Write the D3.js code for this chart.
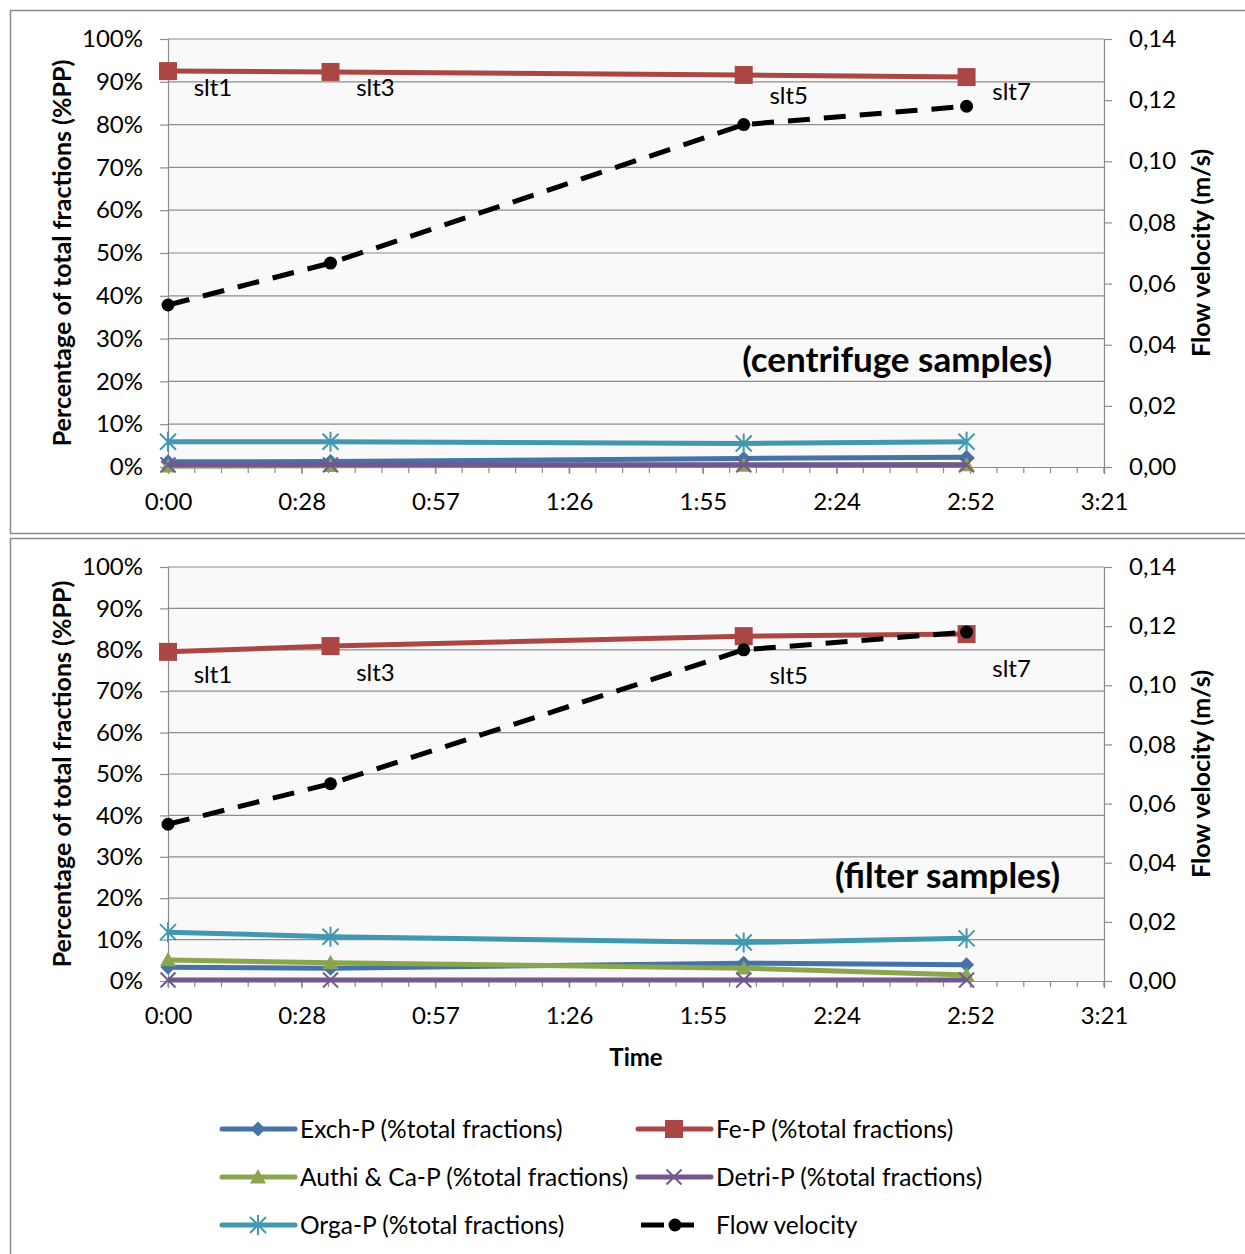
<!DOCTYPE html>
<html>
<head>
<meta charset="utf-8">
<script src="https://cdn.jsdelivr.net/npm/d3@7"></script>
<style>
  body { margin: 0; background: #fff; }
  text { font-family: Lato, "Liberation Sans", sans-serif; fill: #000; }
</style>
</head>
<body>
<div id="chart"></div>
<script>
// sample points (time in minutes since start)
const sampleLabels = ["slt1", "slt3", "slt5", "slt7"];
const sampleTimes = [0, 35, 124, 172];
const flowVelocity = [0.053, 0.0667, 0.112, 0.118];

// centrifuge samples (% of total fractions)
const centrifugeExch = [1.2, 1.3, 2.0, 2.3];
const centrifugeFe = [92.5, 92.3, 91.6, 91.1];
const centrifugeAuthi = [0.2, 0.3, 0.4, 0.5];
const centrifugeDetri = [0.5, 0.5, 0.5, 0.5];
const centrifugeOrga = [5.9, 5.9, 5.5, 5.9];
const centrifugeLabelY = [88.6, 88.6, 86.7, 87.6];

// filter samples (% of total fractions)
const filterExch = [3.3, 3.1, 4.3, 3.9];
const filterFe = [79.5, 80.9, 83.3, 83.8];
const filterAuthi = [5.1, 4.4, 3.1, 1.45];
const filterDetri = [0.25, 0.25, 0.25, 0.25];
const filterOrga = [11.8, 10.7, 9.3, 10.3];
const filterLabelY = [73.9, 74.4, 73.7, 75.4];

// axis ticks
const timeTickValues = [0, 28.8, 57.6, 86.4, 115.2, 144, 172.8, 201.6];
const timeTickLabels = ["0:00", "0:28", "0:57", "1:26", "1:55", "2:24", "2:52", "3:21"];
const pctTicks = [0, 10, 20, 30, 40, 50, 60, 70, 80, 90, 100];
const flowTicks = [0, 0.02, 0.04, 0.06, 0.08, 0.10, 0.12, 0.14];

const seriesNames = ["Exch-P (%total fractions)", "Fe-P (%total fractions)",
    "Authi & Ca-P (%total fractions)", "Detri-P (%total fractions)", "Orga-P (%total fractions)"];
const seriesColors = ["#4572a7", "#aa4643", "#89a54e", "#71588f", "#4198af"];
const seriesMarkers = ["diamond", "square", "triangle", "x", "star"];

let svgWidth = 1245;
let svgHeight = 1254;

var svg = d3.select("#chart")
    .append("svg")
    .attr("width", svgWidth)
    .attr("height", svgHeight);

// outer frames of the two chart objects
svg.append("rect")
    .attr("x", 10.5).attr("y", 10.5)
    .attr("width", 1260).attr("height", 523)
    .attr("fill", "none").attr("stroke", "#8a8a8a").attr("stroke-width", 1.5);
svg.append("rect")
    .attr("x", 10.5).attr("y", 538.5)
    .attr("width", 1260).attr("height", 740)
    .attr("fill", "none").attr("stroke", "#8a8a8a").attr("stroke-width", 1.5);

function markerPath(type, h) {
    switch (type) {
        case "diamond": return `M0,${-h}L${h},0L0,${h}L${-h},0Z`;
        case "square": return `M${-h},${-h}h${2 * h}v${2 * h}h${-2 * h}Z`;
        case "triangle": return `M0,${-h}L${h},${h * 0.8}L${-h},${h * 0.8}Z`;
        case "x": return `M${-h},${-h}L${h},${h}M${h},${-h}L${-h},${h}`;
        case "star": return `M${-h},${-h}L${h},${h}M${h},${-h}L${-h},${h}M0,${-h * 1.25}V${h * 1.25}`;
    }
}
const markerSize = { diamond: 7.5, square: 9, triangle: 8, x: 7.5, star: 8 };
const markerStroke = ["x", "star"];

function drawMarker(g, type, color, x, y) {
    let open = markerStroke.includes(type);
    g.append("path")
        .attr("transform", `translate(${x},${y})`)
        .attr("d", markerPath(type, markerSize[type]))
        .attr("fill", open ? "none" : color)
        .attr("stroke", color)
        .attr("stroke-width", open ? 2 : 0);
}

function drawPanel(cfg) {
    let left = 168, right = 1104;
    var x = d3.scaleLinear().domain([0, 201.6]).range([left, right]);
    var y = d3.scaleLinear().domain([0, 100]).range([cfg.bottom, cfg.top]);
    var y2 = d3.scaleLinear().domain([0, 0.14]).range([cfg.bottom, cfg.top]);

    var g = svg.append("g");

    // plot area
    g.append("rect")
        .attr("x", left).attr("y", cfg.top)
        .attr("width", right - left).attr("height", cfg.bottom - cfg.top)
        .attr("fill", "#f9f9f9");

    // gridlines
    g.selectAll(".grid")
        .data(pctTicks.slice(1))
        .enter()
        .append("line")
        .attr("x1", left).attr("x2", right)
        .attr("y1", d => y(d)).attr("y2", d => y(d))
        .attr("stroke", "#8c8c8c").attr("stroke-width", 1.2);

    // left axis
    var leftAxis = d3.axisLeft(y).tickValues(pctTicks).tickSize(8).tickPadding(17)
        .tickFormat(d => d + "%");
    var la = g.append("g").attr("transform", `translate(${left},0)`).call(leftAxis);

    // right axis
    var rightAxis = d3.axisRight(y2).tickValues(flowTicks).tickSize(8).tickPadding(17)
        .tickFormat(d => d3.format(".2f")(d).replace(".", ","));
    var ra = g.append("g").attr("transform", `translate(${right},0)`).call(rightAxis);

    // bottom axis, major labels + minor ticks
    var bottomAxis = d3.axisBottom(x).tickValues(timeTickValues).tickSize(7).tickPadding(19)
        .tickFormat((d, i) => timeTickLabels[i]);
    var ba = g.append("g").attr("transform", `translate(0,${cfg.bottom})`).call(bottomAxis);
    g.selectAll(".minor")
        .data(d3.range(0, 36).map(i => i * 5.76))
        .enter()
        .append("line")
        .attr("x1", d => x(d)).attr("x2", d => x(d))
        .attr("y1", cfg.bottom).attr("y2", cfg.bottom + 6)
        .attr("stroke", "#8c8c8c").attr("stroke-width", 1.2);

    [la, ra, ba].forEach(a => {
        a.select(".domain").attr("stroke", "#8c8c8c").attr("stroke-width", 1.2);
        a.selectAll(".tick line").attr("stroke", "#8c8c8c").attr("stroke-width", 1.2);
        a.selectAll(".tick text").attr("font-size", "24px").attr("fill", "#000")
            .attr("font-family", "Lato, sans-serif");
    });

    // series
    cfg.series.forEach((vals, si) => {
        let line = d3.line().x((d, i) => x(sampleTimes[i])).y(d => y(d));
        g.append("path")
            .datum(vals)
            .attr("d", line)
            .attr("fill", "none")
            .attr("stroke", seriesColors[si])
            .attr("stroke-width", 5)
            .attr("stroke-linejoin", "round");
        vals.forEach((v, i) => drawMarker(g, seriesMarkers[si], seriesColors[si], x(sampleTimes[i]), y(v)));
    });

    // flow velocity on secondary axis
    let flowLine = d3.line().x((d, i) => x(sampleTimes[i])).y(d => y2(d));
    g.append("path")
        .datum(flowVelocity)
        .attr("d", flowLine)
        .attr("fill", "none")
        .attr("stroke", "#000")
        .attr("stroke-width", 5)
        .attr("stroke-dasharray", "22,14");
    g.selectAll(".flowpt")
        .data(flowVelocity)
        .enter()
        .append("circle")
        .attr("cx", (d, i) => x(sampleTimes[i]))
        .attr("cy", d => y2(d))
        .attr("r", 6.5)
        .attr("fill", "#000");

    // sample labels
    g.selectAll(".slt")
        .data(sampleLabels)
        .enter()
        .append("text")
        .attr("x", (d, i) => x(sampleTimes[i]) + 45)
        .attr("y", (d, i) => y(cfg.labelY[i]))
        .attr("dy", "0.35em")
        .attr("text-anchor", "middle")
        .attr("font-size", "24px")
        .text(d => d);

    // panel title
    g.append("text")
        .attr("x", cfg.titleX).attr("y", cfg.titleY)
        .attr("text-anchor", "end")
        .attr("font-size", "35px").attr("font-weight", "bold")
        .text(cfg.title);

    // axis titles
    let mid = (cfg.top + cfg.bottom) / 2;
    g.append("text")
        .attr("transform", `translate(71,${mid}) rotate(-90)`)
        .attr("text-anchor", "middle")
        .attr("font-size", "25px").attr("font-weight", "bold")
        .text("Percentage of total fractions (%PP)");
    g.append("text")
        .attr("transform", `translate(1210,${mid}) rotate(-90)`)
        .attr("text-anchor", "middle")
        .attr("font-size", "25px").attr("font-weight", "bold")
        .text("Flow velocity (m/s)");

    return x;
}

drawPanel({
    top: 39, bottom: 467,
    series: [centrifugeExch, centrifugeFe, centrifugeAuthi, centrifugeDetri, centrifugeOrga],
    labelY: centrifugeLabelY,
    title: "(centrifuge samples)", titleX: 1052, titleY: 372
});

var xb = drawPanel({
    top: 567, bottom: 981,
    series: [filterExch, filterFe, filterAuthi, filterDetri, filterOrga],
    labelY: filterLabelY,
    title: "(filter samples)", titleX: 1060, titleY: 888
});

svg.append("text")
    .attr("x", (xb.range()[0] + xb.range()[1]) / 2).attr("y", 1066)
    .attr("text-anchor", "middle")
    .attr("font-size", "24px").attr("font-weight", "bold")
    .text("Time");

// legend
const legendCols = [222, 638];
const legendRows = [1129, 1177, 1225];
seriesNames.concat(["Flow velocity"]).forEach((name, i) => {
    let lx = legendCols[i % 2], ly = legendRows[Math.floor(i / 2)];
    let lg = svg.append("g");
    if (i < 5) {
        lg.append("line")
            .attr("x1", lx).attr("x2", lx + 73).attr("y1", ly).attr("y2", ly)
            .attr("stroke", seriesColors[i]).attr("stroke-width", 5).attr("stroke-linecap", "round");
        drawMarker(lg, seriesMarkers[i], seriesColors[i], lx + 36, ly);
    } else {
        lg.append("line")
            .attr("x1", lx + 3).attr("x2", lx + 62).attr("y1", ly).attr("y2", ly)
            .attr("stroke", "#000").attr("stroke-width", 5).attr("stroke-dasharray", "23,7");
        lg.append("circle").attr("cx", lx + 37).attr("cy", ly).attr("r", 6.5).attr("fill", "#000");
    }
    lg.append("text")
        .attr("x", lx + 78).attr("y", ly).attr("dy", "0.35em")
        .attr("font-size", "24.5px")
        .text(name);
});
</script>
</body>
</html>
